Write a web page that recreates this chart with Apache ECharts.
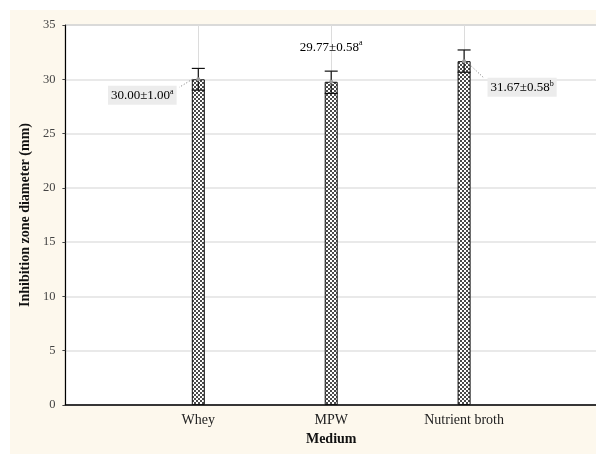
<!DOCTYPE html>
<html>
<head>
<meta charset="utf-8">
<script src="https://cdn.jsdelivr.net/npm/echarts@6/dist/echarts.min.js"></script>
<style>
  html, body { margin: 0; padding: 0; background: #ffffff; overflow: hidden; }
  #chart { position: absolute; left: 10px; top: 10px; width: 592px; height: 444px; }
</style>
</head>
<body>
<div id="chart"></div>
<script>
// Inhibition zone diameter by growth medium
const categories = ['Whey', 'MPW', 'Nutrient broth'];
const means = [30.00, 29.77, 31.67];
const sds = [1.00, 0.58, 0.58];
const groups = ['a', 'a', 'b'];
// whisker extents as plotted
const whiskerLow = [29.0, 28.7, 30.65];
const whiskerHigh = [31.0, 30.75, 32.7];
const yTicks = [0, 5, 10, 15, 20, 25, 30, 35];

const SERIF = '"Liberation Serif", "Times New Roman", serif';

// padded category list so the three media sit inside the plot
const axisCats = [''].concat(categories, ['']);

// checkered fill for the bars
function checkerPattern() {
  const c = document.createElement('canvas');
  c.width = 4; c.height = 4;
  const g = c.getContext('2d');
  g.fillStyle = '#ffffff';
  g.fillRect(0, 0, 4, 4);
  g.fillStyle = '#4a4a4a';
  g.fillRect(0, 0, 2, 2);
  g.fillRect(2, 2, 2, 2);
  return c;
}

// label placement relative to the bar top (pixels)
const labelLayout = [
  { dx: -56, dy: 16, boxed: true, lead: [[-6, 0], [-19, 8]] },
  { dx: 0, dy: -35, boxed: false, lead: null },
  { dx: 58, dy: 26, boxed: true, lead: [[3, 1], [20, 17]] }
];

const barData = [null].concat(means, [null]);
const errData = categories.map((c, i) => [c, means[i], whiskerLow[i], whiskerHigh[i], i]);

const chart = echarts.init(document.getElementById('chart'), null, { renderer: 'canvas' });

chart.setOption({
  backgroundColor: '#fdf8ed',
  animation: false,
  grid: {
    left: 53, top: 15, right: 5, bottom: 49,
    show: true, backgroundColor: '#ffffff', borderColor: '#8a8a8a', borderWidth: 1
  },
  xAxis: {
    type: 'category',
    data: axisCats,
    boundaryGap: false,
    name: 'Medium',
    nameLocation: 'middle',
    nameGap: 27,
    nameTextStyle: { fontFamily: SERIF, fontWeight: 'bold', fontSize: 14, color: '#111' },
    axisLine: { lineStyle: { color: '#000', width: 1.5 } },
    axisTick: { show: false },
    axisLabel: { fontFamily: SERIF, fontSize: 14, color: '#222', margin: 8 },
    splitLine: { show: true, lineStyle: { color: '#dcdcdc', width: 1 } }
  },
  yAxis: {
    type: 'value',
    min: 0, max: 35, interval: 5,
    name: 'Inhibition zone diameter (mm)',
    nameLocation: 'middle',
    nameGap: 29,
    nameTextStyle: { fontFamily: SERIF, fontWeight: 'bold', fontSize: 14, color: '#111' },
    axisLine: { show: true, lineStyle: { color: '#000', width: 1.2 } },
    axisTick: { show: true, inside: false, length: 3, lineStyle: { color: '#444' } },
    axisLabel: {
      fontFamily: SERIF, fontSize: 12.5, color: '#444', margin: 10,
      formatter: v => (yTicks.indexOf(v) >= 0 ? String(v) : '')
    },
    splitLine: { show: true, lineStyle: { color: '#e2e2e2', width: 1.5 } }
  },
  series: [
    {
      type: 'bar',
      data: barData,
      barWidth: 13,
      itemStyle: {
        color: { image: checkerPattern(), repeat: 'repeat' },
        borderColor: '#111',
        borderWidth: 1
      },
      z: 2
    },
    {
      type: 'custom',
      data: errData,
      encode: { x: 0, y: 1 },
      z: 5,
      renderItem: function (params, api) {
        const idx = params.dataIndex;
        const cat = api.value(0);
        const mean = api.value(1);
        const top = api.coord([cat, api.value(3)]);
        const bot = api.coord([cat, api.value(2)]);
        const m = api.coord([cat, mean]);
        const hw = 6.5;
        const lineStyle = { stroke: '#111', lineWidth: 1.2 };
        const children = [
          { type: 'line', shape: { x1: top[0], y1: top[1], x2: bot[0], y2: bot[1] }, style: lineStyle },
          { type: 'line', shape: { x1: top[0] - hw, y1: top[1], x2: top[0] + hw, y2: top[1] }, style: lineStyle },
          { type: 'line', shape: { x1: bot[0] - hw, y1: bot[1], x2: bot[0] + hw, y2: bot[1] }, style: lineStyle },
          { type: 'circle', shape: { cx: m[0], cy: m[1], r: 2 }, style: { fill: '#9a9a9a' } }
        ];
        const L = labelLayout[idx];
        const txt = '{n|' + means[idx].toFixed(2) + '±' + sds[idx].toFixed(2) + '}{s|' + groups[idx] + '}';
        children.push({
          type: 'text',
          x: m[0] + L.dx,
          y: m[1] + L.dy,
          style: {
            text: txt,
            align: 'center',
            verticalAlign: 'middle',
            backgroundColor: L.boxed ? '#ececec' : 'transparent',
            padding: [2, 3, 1, 3],
            rich: {
              n: { fontFamily: SERIF, fontSize: 13, color: '#1a1a1a', lineHeight: 16 },
              s: { fontFamily: SERIF, fontSize: 8, color: '#1a1a1a', lineHeight: 16, verticalAlign: 'top', padding: [0, 0, 6, 0] }
            }
          }
        });
        if (L.lead) {
          children.push({
            type: 'line',
            shape: {
              x1: m[0] + L.lead[0][0], y1: m[1] + L.lead[0][1],
              x2: m[0] + L.lead[1][0], y2: m[1] + L.lead[1][1]
            },
            style: { stroke: '#777', lineWidth: 1, lineDash: [1, 2] }
          });
        }
        return { type: 'group', children: children };
      }
    }
  ]
});
</script>
</body>
</html>
